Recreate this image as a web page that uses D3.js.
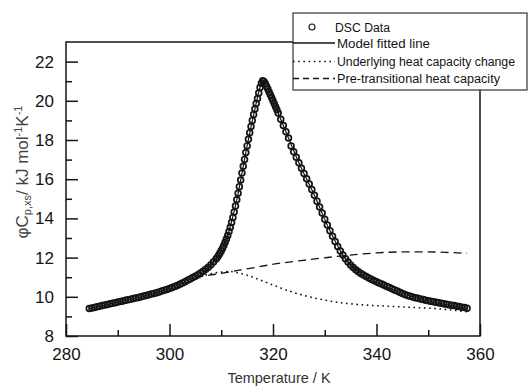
<!DOCTYPE html>
<html>
<head>
<meta charset="utf-8">
<script src="https://cdn.jsdelivr.net/npm/d3@7"></script>
<style>
  body { margin: 0; background: #fff; }
  svg { display: block; }
</style>
</head>
<body>
<svg id="chart" width="528" height="386"></svg>
<script>
// DSC scan: [T / K, phiCp / kJ mol-1 K-1]
const dscData = [
  [284.5,9.40],[285,9.43],[285.5,9.46],[286,9.49],[286.5,9.52],[287,9.55],[287.5,9.58],[288,9.61],
  [288.5,9.64],[289,9.67],[289.5,9.70],[290,9.73],[290.5,9.76],[291,9.79],[291.5,9.82],[292,9.85],
  [292.5,9.88],[293,9.91],[293.5,9.94],[294,9.97],[294.5,10.00],[295,10.04],[295.5,10.07],[296,10.10],
  [296.5,10.14],[297,10.17],[297.5,10.21],[298,10.25],[298.5,10.29],[299,10.33],[299.5,10.37],[300,10.42],
  [300.5,10.47],[301,10.52],[301.5,10.58],[302,10.64],[302.5,10.70],[303,10.77],[303.5,10.84],[304,10.91],
  [304.5,10.98],[305,11.05],[305.5,11.13],[306,11.21],[306.5,11.30],[307,11.40],[307.5,11.51],[308,11.63],
  [308.5,11.77],[309,11.93],
  [309.25,12.02],[309.5,12.12],[309.75,12.23],[310,12.35],[310.25,12.48],[310.5,12.62],[310.75,12.78],
  [311,12.95],[311.25,13.13],[311.5,13.33],[311.75,13.55],[312,13.79],[312.25,14.05],[312.5,14.33],
  [312.75,14.63],[313,14.95],[313.25,15.28],[313.5,15.62],[313.75,15.96],[314,16.31],[314.25,16.66],
  [314.5,17.01],[314.75,17.36],[315,17.70],[315.25,18.04],[315.5,18.37],[315.75,18.69],[316,19.00],
  [316.25,19.30],[316.5,19.58],[316.75,19.86],[317,20.12],[317.25,20.40],[317.5,20.68],[317.75,20.90],
  [318,21.02],[318.25,20.98],[318.5,20.88],[318.75,20.74],[319,20.60],[319.25,20.45],[319.5,20.30],
  [319.75,20.15],[320,20.00],[320.25,19.85],[320.5,19.70],[320.75,19.54],[321,19.38],
  [321.5,19.06],[322,18.74],[322.5,18.42],[323,18.10],[323.5,17.70],[324,17.40],[324.5,17.12],[325,16.84],
  [325.5,16.56],[326,16.29],[326.5,16.02],[327,15.75],[327.5,15.47],[328,15.18],[328.5,14.88],[329,14.58],
  [329.5,14.27],[330,13.96],[330.5,13.66],[331,13.37],[331.5,13.09],[332,12.82],[332.5,12.57],[333,12.34],
  [333.5,12.13],[334,11.94],[334.5,11.77],[335,11.62],[335.5,11.49],[336,11.38],[336.5,11.28],[337,11.19],
  [337.5,11.11],[338,11.03],[338.5,10.96],[339,10.89],[339.5,10.83],[340,10.77],[340.5,10.71],[341,10.65],
  [341.5,10.59],[342,10.53],[342.5,10.47],[343,10.41],[343.5,10.35],[344,10.29],[344.5,10.23],[345,10.17],
  [345.5,10.12],[346,10.07],[346.5,10.03],[347,9.99],[347.5,9.95],[348,9.92],[348.5,9.89],[349,9.86],
  [349.5,9.83],[350,9.80],[350.5,9.77],[351,9.75],[351.5,9.72],[352,9.70],[352.5,9.67],[353,9.65],
  [353.5,9.62],[354,9.60],[354.5,9.57],[355,9.55],[355.5,9.52],[356,9.50],[356.5,9.47],[357,9.45],
  [357.5,9.42]
];

// model fit (solid line, mostly hidden under the symbols)
const fitLine = [
  [284.5,9.40],[290,9.73],[295,10.04],[300,10.42],[304,10.91],[307,11.40],[309,11.93],[311,12.95],
  [313,14.95],[315,17.70],[316.5,19.58],[317.5,20.68],[318,21.02],[318.75,20.74],[320,20.00],[322,18.74],
  [325,16.84],[328,15.18],[331,13.37],[334,11.94],[337,11.19],[340,10.77],[345,10.17],[350,9.80],[357.5,9.42]
];

// underlying heat capacity change (dotted)
const underlying = [
  [305,10.98],[306.5,11.08],[308,11.18],[310,11.26],[311.8,11.29],[313,11.24],[315,11.10],[317.5,10.86],
  [319.5,10.65],[321.5,10.45],[324,10.22],[326,10.07],[328,9.94],[330,9.83],[332.5,9.72],[335,9.64],
  [339,9.56],[342,9.52],[346,9.47],[350,9.42],[354,9.34],[357.5,9.24]
];

// pre-transitional heat capacity (dashed)
const preTransition = [
  [305,10.98],[306.5,11.05],[310,11.20],[315.5,11.45],[321,11.70],[325.5,11.85],[330,11.99],[334.5,12.12],
  [340,12.24],[345,12.29],[350,12.29],[354,12.26],[357.5,12.22]
];

const xMajor = [280, 300, 320, 340, 360];
const xMinor = [290, 310, 330, 350];
const yMajor = [8, 10, 12, 14, 16, 18, 20, 22];
const yMinor = [9, 11, 13, 15, 17, 19, 21];

const legendItems = [
  { key: "dsc",   label: "DSC Data",                       len: 55 },
  { key: "fit",   label: "Model fitted line",              len: 93 },
  { key: "under", label: "Underlying heat capacity change", len: 178 },
  { key: "pre",   label: "Pre-transitional heat capacity",  len: 163 }
];

const svg = d3.select("#chart");
const ink = "#141414";
const font = "'Liberation Sans', Arial, sans-serif";

const x = d3.scaleLinear().domain([280, 360]).range([66, 480]);
const y = d3.scaleLinear().domain([8, 23]).range([336, 42]);

// frame
svg.append("rect")
  .attr("x", x(280)).attr("y", y(23))
  .attr("width", x(360) - x(280)).attr("height", y(8) - y(23))
  .attr("fill", "none").attr("stroke", ink).attr("stroke-width", 1.5);

// inward ticks via d3 axes
const xAxis = svg.append("g").attr("transform", `translate(0,${y(8)})`)
  .call(d3.axisBottom(x).tickValues(xMajor).tickSize(-12).tickFormat(d3.format("d")));
svg.append("g").attr("transform", `translate(0,${y(8)})`)
  .call(d3.axisBottom(x).tickValues(xMinor).tickSize(-6).tickFormat(""));
const yAxis = svg.append("g").attr("transform", `translate(${x(280)},0)`)
  .call(d3.axisLeft(y).tickValues(yMajor).tickSize(-12).tickFormat(d3.format("d")));
svg.append("g").attr("transform", `translate(${x(280)},0)`)
  .call(d3.axisLeft(y).tickValues(yMinor).tickSize(-6).tickFormat(""));

svg.selectAll(".domain").remove();
svg.selectAll(".tick line").attr("stroke", ink).attr("stroke-width", 1.5);
svg.selectAll(".tick text")
  .attr("fill", ink).style("font-family", font).style("font-size", "17px");
xAxis.selectAll(".tick text").attr("dy", "0.71em").attr("y", 12);
yAxis.selectAll(".tick text").attr("x", -12);

// lines
const line = d3.line().x(d => x(d[0])).y(d => y(d[1])).curve(d3.curveMonotoneX);

svg.append("path").datum(preTransition).attr("d", line)
  .attr("fill", "none").attr("stroke", ink).attr("stroke-width", 1.3).attr("stroke-dasharray", "8,5");
svg.append("path").datum(underlying).attr("d", line)
  .attr("fill", "none").attr("stroke", ink).attr("stroke-width", 1.6)
  .attr("stroke-dasharray", "1.6,3.6");
svg.append("path").datum(fitLine).attr("d", line)
  .attr("fill", "none").attr("stroke", ink).attr("stroke-width", 1.2);

// DSC symbols
svg.append("g").selectAll("circle").data(dscData).enter().append("circle")
  .attr("cx", d => x(d[0])).attr("cy", d => y(d[1])).attr("r", 2.9)
  .attr("fill", "none").attr("stroke", ink).attr("stroke-width", 1.7);

// axis titles
svg.append("text")
  .attr("x", 279).attr("y", 383).attr("text-anchor", "middle")
  .attr("fill", "#333").style("font-family", font).style("font-size", "14.5px")
  .text("Temperature / K");

const yTitle = svg.append("text")
  .attr("transform", "translate(28,172) rotate(-90)")
  .attr("text-anchor", "middle")
  .attr("fill", "#444").style("font-family", font).style("font-size", "17px");
yTitle.append("tspan").text("\u03C6C");
yTitle.append("tspan").attr("baseline-shift", "-30%").style("font-size", "11px").text("p,xs");
yTitle.append("tspan").text("/ kJ mol");
yTitle.append("tspan").attr("baseline-shift", "super").style("font-size", "11px").text("-1");
yTitle.append("tspan").text("K");
yTitle.append("tspan").attr("baseline-shift", "super").style("font-size", "11px").text("-1");

// legend
const legend = svg.append("g");
legend.append("rect")
  .attr("x", 293).attr("y", 13).attr("width", 234).attr("height", 77)
  .attr("fill", "#fff").attr("stroke", "#333").attr("stroke-width", 1.2);

const rowY = { dsc: 27, fit: 43, under: 61.5, pre: 78.5 };
legendItems.forEach(it => {
  const ry = rowY[it.key];
  if (it.key === "dsc") {
    legend.append("circle").attr("cx", 312).attr("cy", ry).attr("r", 3)
      .attr("fill", "none").attr("stroke", ink).attr("stroke-width", 1.1);
  } else {
    const seg = legend.append("line").attr("x1", 293).attr("x2", 335).attr("y1", ry).attr("y2", ry)
      .attr("stroke", ink);
    if (it.key === "fit") seg.attr("stroke-width", 1.5);
    if (it.key === "under") seg.attr("stroke-width", 1.6).attr("stroke-dasharray", "1.6,3.6");
    if (it.key === "pre") seg.attr("stroke-width", 1.3).attr("stroke-dasharray", "6,4");
  }
  legend.append("text")
    .attr("x", it.key === "dsc" ? 335 : 337).attr("y", ry + 4.5)
    .attr("textLength", it.len).attr("lengthAdjust", "spacingAndGlyphs")
    .attr("fill", ink).style("font-family", font).style("font-size", "12.5px")
    .text(it.label);
});
</script>
</body>
</html>
